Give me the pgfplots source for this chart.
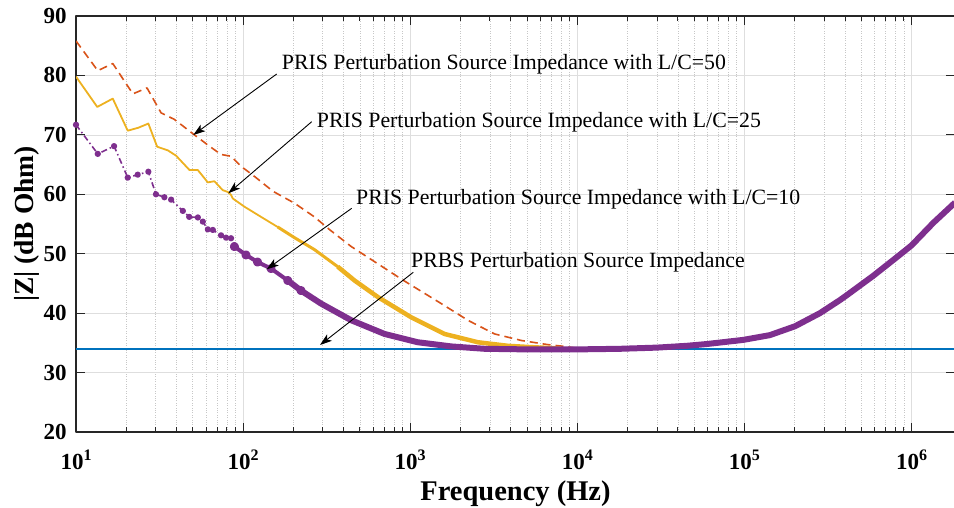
\documentclass[border=0pt]{standalone}
\usepackage{fontspec}
\setmainfont{Liberation Serif}
\usepackage{pgfplots}
\pgfplotsset{compat=1.18}
\usetikzlibrary{arrows.meta}
\definecolor{mblue}{rgb}{0,0.447,0.741}
\definecolor{morange}{rgb}{0.85,0.325,0.098}
\definecolor{myellow}{rgb}{0.929,0.694,0.125}
\definecolor{mpurple}{rgb}{0.494,0.184,0.556}
\newcommand{\tl}[1]{\textbf{10}\raisebox{8.5pt}{\fontsize{16}{16}\selectfont\textbf{#1}}}
\begin{document}
\begin{tikzpicture}
\useasboundingbox (-76pt,-75pt) rectangle (878pt,432pt);
\begin{axis}[
  at={(0pt,0pt)}, anchor=south west,
  scale only axis, width=879pt, height=416pt,
  xmode=log, xmin=10, xmax=1.82e6, ymin=20, ymax=90,
  xtick={10,100,1000,10000,100000,1000000},
  xticklabels={\tl{1},\tl{2},\tl{3},\tl{4},\tl{5},\tl{6}},
  minor xtick={20,30,40,50,60,70,80,90,200,300,400,500,600,700,800,900,2000,3000,4000,5000,6000,7000,8000,9000,20000,30000,40000,50000,60000,70000,80000,90000,200000,300000,400000,500000,600000,700000,800000,900000},
  ytick={20,30,...,90},
  /pgf/number format/assume math mode=true,
  grid=both,
  major grid style={draw=black!13, line width=0.7pt},
  minor grid style={draw=black!22, dotted, line width=0.7pt},
  axis line style={draw=black!85, line width=1.1pt},
  tick style={draw=black!85, line width=1pt},
  major tick length=9pt, minor tick length=5pt,
  tick align=inside,
  ticklabel style={font=\fontsize{23}{23}\selectfont\bfseries, inner sep=0pt},
  xticklabel style={anchor=base, yshift=-37pt},
  yticklabel style={anchor=east, xshift=-9.3pt},
  xlabel={Frequency (Hz)},
  ylabel={|Z| (dB Ohm)},
  xlabel style={font=\fontsize{28.5}{28.5}\selectfont\bfseries, inner sep=0pt, at={(axis description cs:0.5,0)}, anchor=base, yshift=-68.7pt},
  ylabel style={font=\fontsize{27.5}{27.5}\selectfont\bfseries, inner sep=0pt, at={(axis description cs:0,0.5)}, anchor=base, yshift=43pt},
  line join=round,
]
% PRBS
\addplot[mblue, line width=2pt] coordinates {(10,34) (1.82e6,34)};
% L/C=50
\addplot[morange, line width=1.6pt, dash pattern=on 8pt off 5pt] coordinates {
(10,85.8) (13.5,80.8) (16.6,82.0) (21.9,76.9) (26.6,77.9) (32.3,73.7) (38.8,72.6) (51.1,70.0) (62.8,68.1) (73.8,66.7) (84.7,66.4) (97.3,64.7) (117,63.0) (151,60.5) (203,58.5) (267,56.2) (331,54.0) (444,51.2) (900,45.6) (1535,41.6) (2213,38.8) (3199,36.5) (4624,35.4) (6668,34.7) (8356,34.4) (10000,34.1)};
% L/C=25
\addplot[myellow, line width=1.8pt] coordinates {
(10,79.8) (13.4,74.7) (16.6,76.1) (20.4,70.7) (23.6,71.2) (27.1,71.9) (30.6,68.0) (35.4,67.4) (39.7,66.5) (47.7,64.1) (53.5,64.1) (61.5,62.0) (67.3,62.2) (75.5,60.7) (80.9,60.4) (84.7,59.9) (86.7,59.3) (102,57.9) (128,56.2) (161,54.5) (203,52.7)};
\addplot[myellow, line width=3pt] coordinates {
(161,54.5) (203,52.7) (267,50.7) (369,47.8) (464,45.5)};
\addplot[myellow, line width=4.5pt] coordinates {
(369,47.8) (464,45.5) (641,42.7) (1014,39.3) (1603,36.5) (2541,35.1) (3846,34.5) (5534,34.25) (8000,34.05)};
% L/C=10
\addplot[mpurple, line width=1.6pt, dash pattern=on 6pt off 3pt on 1.5pt off 3pt, mark=*, mark size=2.3pt, mark options={solid}] coordinates {
(10,71.7) (13.5,66.8) (16.9,68.1) (20.4,62.8) (23.4,63.3) (27.1,63.8) (30.1,60.0) (33.8,59.5) (37.1,59.1) (43.6,57.2) (47.6,56.2) (53.6,56.1) (57.4,55.4) (61.5,54.1) (65.9,54.0) (73.8,53.1) (79.1,52.7) (84.7,52.6) (88.7,51.2) (104,49.8)};
\addplot[mpurple, line width=4pt, mark=*, mark size=2.5pt] coordinates {
(88.7,51.2) (104,49.8) (122,48.6) (147,47.5) (185,45.5) (222,43.8)};
\addplot[mpurple, line width=6pt] coordinates {
(185,45.5) (222,43.8) (293,41.6) (444,38.8) (702,36.5) (1112,35.1) (1762,34.4) (2787,34.0) (5000,33.9) (10000,33.9) (18000,34.0) (29900,34.2) (45000,34.5) (59400,34.8) (98400,35.5) (142000,36.3) (201000,37.8) (283000,40.0) (373000,42.2) (409000,43.0) (591000,46.3) (815000,49.4) (1000000,51.4) (1350000,55.2) (1820000,58.6)};
\end{axis}
\begin{scope}[font=\fontsize{21.8}{21.8}\selectfont]
\node[anchor=base west, inner sep=0pt] at (205.7pt,362.7pt) {PRIS Perturbation Source Impedance with L/C=50};
\node[anchor=base west, inner sep=0pt] at (240.7pt,304.7pt) {PRIS Perturbation Source Impedance with L/C=25};
\node[anchor=base west, inner sep=0pt] at (280pt,227.7pt) {PRIS Perturbation Source Impedance with L/C=10};
\node[anchor=base west, inner sep=0pt] at (335pt,164.3pt) {PRBS Perturbation Source Impedance};
\end{scope}
\begin{scope}[line width=0.9pt, -{Stealth[length=12pt, width=8pt, inset=3pt]}]
\draw (200.7pt,358pt) -- (117.3pt,297pt);
\draw (235.7pt,310.3pt) -- (152.3pt,238.7pt);
\draw (275.7pt,223.7pt) -- (190.7pt,162.7pt);
\draw (337.3pt,159.7pt) -- (244pt,87pt);
\end{scope}
\end{tikzpicture}
\end{document}
